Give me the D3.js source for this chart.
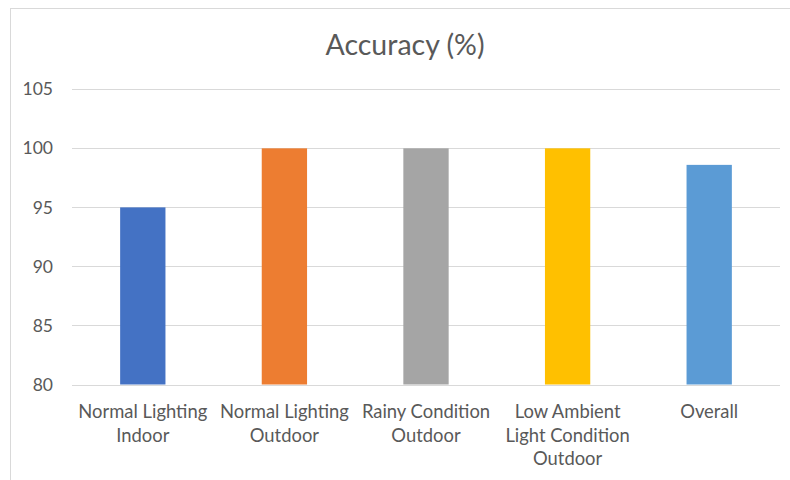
<!DOCTYPE html>
<html><head><meta charset="utf-8">
<script src="https://cdn.jsdelivr.net/npm/d3@7"></script>
<style>body{margin:0;background:#fff;} svg{display:block;}</style>
</head><body>
<svg id="chart" width="790" height="480"></svg>
<script>
const categories = [
  ["Normal Lighting", "Indoor"],
  ["Normal Lighting", "Outdoor"],
  ["Rainy Condition", "Outdoor"],
  ["Low Ambient", "Light Condition", "Outdoor"],
  ["Overall"]
];
const values = [95, 100, 100, 100, 98.6];
const colors = ["#4472c4", "#ed7d31", "#a5a5a5", "#ffc000", "#5b9bd5"];
const yTicks = [80, 85, 90, 95, 100, 105];
const title = "Accuracy (%)";

const svg = d3.select("#chart");
const font = "Lato, 'Open Sans', sans-serif";
const textColor = "#595959";

svg.append("rect").attr("x", 10.5).attr("y", 8.5).attr("width", 800).attr("height", 500)
  .attr("fill", "#fff").attr("stroke", "#d9d9d9").attr("stroke-width", 1);

const plotL = 72, plotR = 780, plotT = 89.3, plotB = 384.5;
const x = d3.scaleBand().domain(d3.range(categories.length)).range([plotL, plotR]).padding(0);
const y = d3.scaleLinear().domain([80, 105]).range([plotB, plotT]);

svg.append("g").selectAll("line").data(yTicks).join("line")
  .attr("x1", plotL).attr("x2", plotR)
  .attr("y1", d => Math.round(y(d)) + 0.5).attr("y2", d => Math.round(y(d)) + 0.5)
  .attr("stroke", "#d9d9d9").attr("stroke-width", 1);

svg.append("g").selectAll("text").data(yTicks).join("text")
  .attr("x", 53).attr("y", d => y(d)).attr("dy", "0.35em")
  .attr("text-anchor", "end").attr("fill", textColor)
  .style("font-family", font).style("font-size", "17.5px")
  .text(d => d);

const bw = x.bandwidth() * 0.32;
svg.append("g").selectAll("rect").data(values).join("rect")
  .attr("x", (d, i) => x(i) + x.bandwidth() / 2 - bw / 2)
  .attr("width", bw)
  .attr("y", d => y(d))
  .attr("height", d => y(80) - y(d))
  .attr("fill", (d, i) => colors[i]);

const lbl = svg.append("g").selectAll("text").data(categories).join("text")
  .attr("text-anchor", "middle").attr("fill", textColor)
  .style("font-family", font).style("font-size", "18.4px")
  .attr("transform", (d, i) => `translate(${x(i) + x.bandwidth() / 2},0)`);
lbl.selectAll("tspan").data(d => d).join("tspan")
  .attr("x", 0).attr("y", (d, j) => 411.7 + j * 23.5).attr("dy", "0.35em")
  .text(d => d);

svg.append("text").attr("x", 405).attr("y", 45).attr("dy", "0.35em")
  .attr("text-anchor", "middle").attr("fill", textColor)
  .style("font-family", font).style("font-size", "28.5px")
  .text(title);
</script>
</body></html>
